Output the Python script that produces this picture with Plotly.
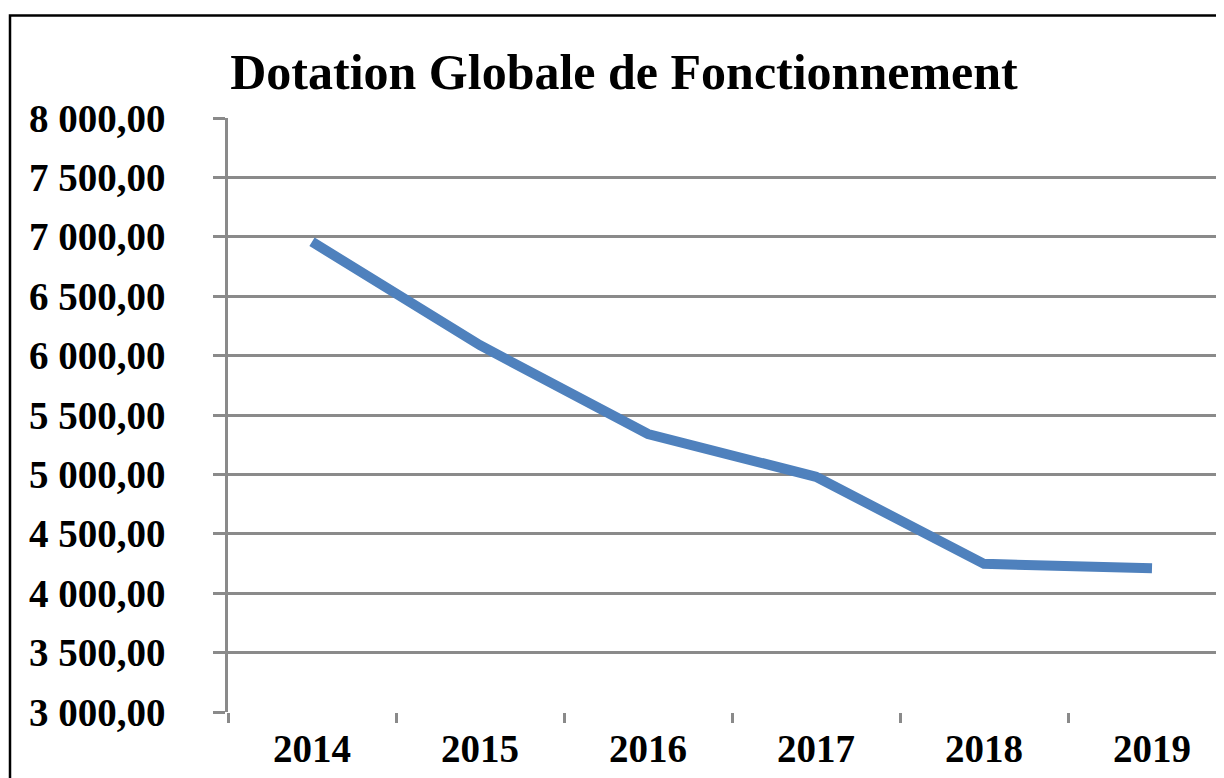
import plotly.graph_objects as go

years = ["2014", "2015", "2016", "2017", "2018", "2019"]
dgf = [6958, 6087, 5340, 4980, 4247, 4210]
y_ticks = [3000, 3500, 4000, 4500, 5000, 5500, 6000, 6500, 7000, 7500, 8000]
y_labels = ["3 000,00", "3 500,00", "4 000,00", "4 500,00", "5 000,00", "5 500,00",
            "6 000,00", "6 500,00", "7 000,00", "7 500,00", "8 000,00"]
title = "Dotation Globale de Fonctionnement"

FONT = "Liberation Serif"
OFF = 8  # default page body margin
W, H = 1224 - OFF, 778 - OFF
L, R, T, B = 228 - OFF, 0, 117.5 - OFF, 66.3
pw = W - L - R
ph = H - T - B

fig = go.Figure()
fig.add_trace(go.Scatter(
    x=years, y=dgf, mode="lines",
    line=dict(color="#4F81BD", width=10),
    showlegend=False, hoverinfo="skip",
))

fig.update_layout(
    width=W, height=H,
    margin=dict(l=L, r=R, t=T, b=B, pad=0, autoexpand=False),
    paper_bgcolor="white", plot_bgcolor="white",
    title=dict(text=f"<b>{title}</b>", x=(624 - OFF) / W, xanchor="center",
               y=1 - (87 - OFF + 2) / H, yanchor="bottom",
               font=dict(family=FONT, size=50, color="black")),
    font=dict(family=FONT, color="black"),
)
fig.update_xaxes(
    type="category", range=[-0.5, -0.5 + pw / 168.0],
    tickvals=years, ticktext=[f"<b>{y}</b>" for y in years],
    showgrid=False, showline=False, zeroline=False, automargin=False,
    ticks="outside", ticklen=10, tickwidth=2.5, tickcolor="#8a8a8a",
    tickson="boundaries", ticklabelstandoff=10,
    tickfont=dict(family=FONT, size=39, color="black"),
)
fig.update_yaxes(
    range=[3000, 8000], automargin=False,
    tickvals=y_ticks, ticktext=[f"<b>{t}</b>" for t in y_labels],
    showgrid=True, gridcolor="#8a8a8a", gridwidth=2.5,
    showline=True, linecolor="#8a8a8a", linewidth=2.5,
    zeroline=False,
    ticks="outside", ticklen=12, tickwidth=2.5, tickcolor="#8a8a8a",
    ticklabelstandoff=40,
    tickfont=dict(family=FONT, size=39, color="black"),
)

# outer chart frame (cut by window on right and bottom)
fig.add_shape(type="rect", xref="paper", yref="paper",
              x0=(10 - 228) / pw, x1=(W + 30 - L) / pw,
              y0=-(B + 30) / ph, y1=(H - B - (15 - OFF)) / ph,
              line=dict(color="black", width=2.5), layer="below")

fig.write_html("out.html")
